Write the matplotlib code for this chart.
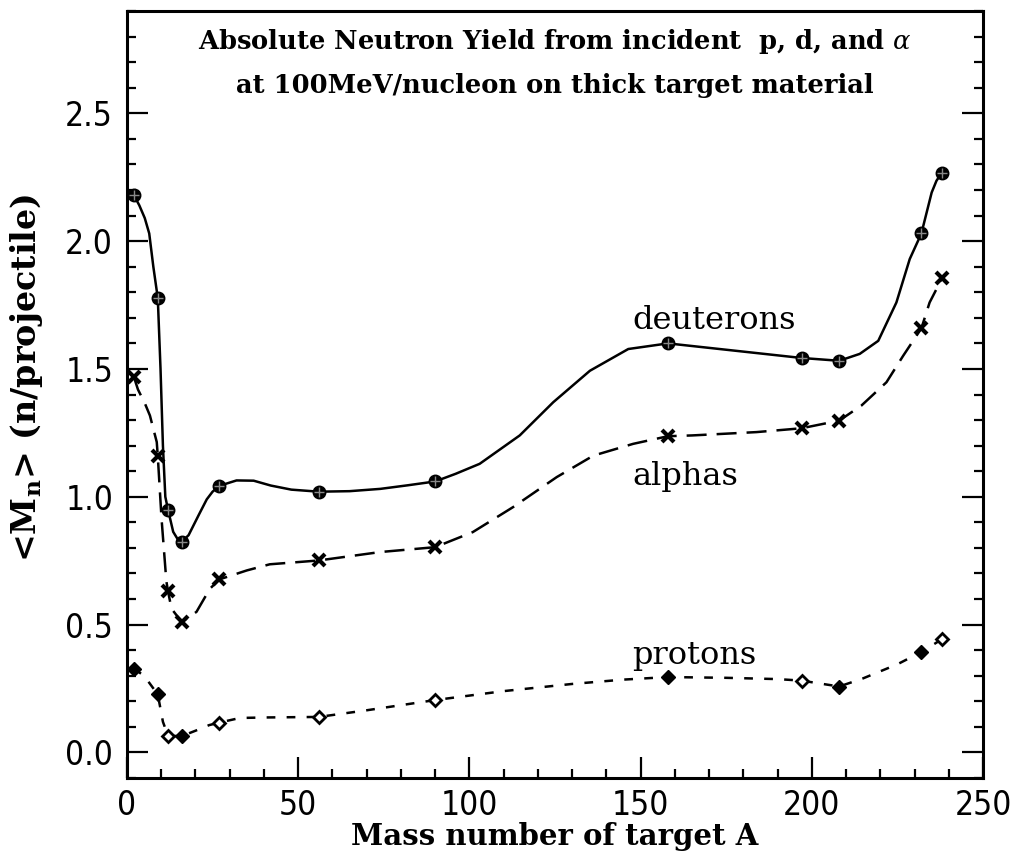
import numpy as np
import matplotlib
matplotlib.use('Agg')
import matplotlib.pyplot as plt
from matplotlib import font_manager
from matplotlib.ticker import MultipleLocator

# measured points (target mass number A, neutron yield per projectile)
A_d = [2, 9, 12, 16, 27, 56, 90, 158, 197, 208, 232, 238]
Y_d = [2.18, 1.777, 0.949, 0.824, 1.043, 1.02, 1.06, 1.60, 1.543, 1.532, 2.03, 2.268]

A_a = [2, 9, 12, 16, 27, 56, 90, 158, 197, 208, 232, 238]
Y_a = [1.47, 1.159, 0.63, 0.51, 0.677, 0.751, 0.803, 1.237, 1.268, 1.298, 1.659, 1.854]

A_p = [2, 9, 12, 16, 27, 56, 90, 158, 197, 208, 232, 238]
Y_p = [0.328, 0.227, 0.065, 0.064, 0.117, 0.139, 0.205, 0.295, 0.281, 0.258, 0.393, 0.443]
p_filled = [True, True, False, True, False, False, False, True, False, True, True, False]

# curve vertices
cx_d = [2, 3.6, 5.2, 6.5, 7.7, 9, 9.8, 10.5, 11.2, 12, 13.5, 15, 16, 18, 21, 23.3, 25, 27,
        32, 37, 42, 48, 56, 65, 74, 82, 90, 96, 103, 114.7, 124.5, 135.2, 146.4, 158,
        197, 208, 214, 219.4, 224.7, 228.6, 232, 235, 236.4, 238]
cy_d = [2.18, 2.14, 2.09, 2.03, 1.90, 1.777, 1.5, 1.2, 1.0, 0.949, 0.863, 0.83, 0.824, 0.85,
        0.93, 0.99, 1.02, 1.043, 1.064, 1.063, 1.044, 1.028, 1.02, 1.022, 1.031, 1.045, 1.06,
        1.09, 1.129, 1.24, 1.37, 1.493, 1.578, 1.60, 1.543, 1.532, 1.559, 1.61, 1.76, 1.93,
        2.03, 2.19, 2.236, 2.268]

cx_a = [2, 3.2, 5.3, 6.7, 8.7, 9, 10.1, 11.5, 12, 13, 16, 20.3, 24.2, 27, 35, 41.7, 56, 74,
        90, 101, 112.8, 125.5, 136.2, 147.8, 158, 165, 183.8, 197, 208, 214.5, 221.8, 226.7,
        232, 234.4, 238]
cy_a = [1.47, 1.42, 1.363, 1.318, 1.214, 1.159, 0.914, 0.67, 0.63, 0.5625, 0.51, 0.55, 0.64,
        0.677, 0.712, 0.736, 0.751, 0.784, 0.803, 0.862, 0.96, 1.077, 1.161, 1.207, 1.237,
        1.24, 1.253, 1.268, 1.298, 1.357, 1.448, 1.552, 1.659, 1.76, 1.854]

cx_p = [2, 5, 9, 10.5, 12, 16, 20, 24, 27, 33, 41, 56, 70, 90, 110, 130, 145, 158, 175, 190,
        197, 208, 215, 225, 232, 238]
cy_p = [0.328, 0.30, 0.227, 0.12, 0.065, 0.064, 0.085, 0.107, 0.117, 0.135, 0.137, 0.139,
        0.165, 0.205, 0.24, 0.268, 0.285, 0.295, 0.292, 0.287, 0.281, 0.258, 0.29, 0.345,
        0.393, 0.443]

names = {f.name for f in font_manager.fontManager.ttflist}
tick_family = 'Liberation Sans Narrow' if 'Liberation Sans Narrow' in names else 'DejaVu Sans'
tick_font = font_manager.FontProperties(family=tick_family, stretch='condensed', size=24)

plt.rcParams['mathtext.fontset'] = 'dejavuserif'
serif = 'DejaVu Serif'

fig = plt.figure(figsize=(10.19, 8.6), dpi=100)
ax = fig.add_axes([0.1246, 0.0953, 0.8401, 0.8919])

lw = 1.8
ax.plot(cx_d, cy_d, '-', color='black', lw=lw, zorder=2)
ax.plot(cx_a, cy_a, color='black', lw=lw, dashes=(8, 4), zorder=2)
ax.plot(cx_p, cy_p, color='black', lw=lw, dashes=(3.5, 4.5), zorder=2)

# deuteron markers: dark circles with a cross
ax.plot(A_d, Y_d, 'o', ms=9, color='black', zorder=3)
ax.plot(A_d, Y_d, '+', ms=7, mew=1, color='#888888', zorder=4)
# alpha markers
ax.plot(A_a, Y_a, 'x', ms=8, mew=3, color='black', zorder=3)
# proton markers, filled and open diamonds
fill = np.array(p_filled)
A_p_arr, Y_p_arr = np.array(A_p), np.array(Y_p)
ax.plot(A_p_arr[fill], Y_p_arr[fill], 'D', ms=7, color='black', zorder=3)
ax.plot(A_p_arr[~fill], Y_p_arr[~fill], 'D', ms=6, mfc='white', mec='black', mew=2, zorder=3)

ax.set_xlim(0, 250)
ax.set_ylim(-0.1, 2.9)
ax.xaxis.set_major_locator(MultipleLocator(50))
ax.xaxis.set_minor_locator(MultipleLocator(10))
ax.yaxis.set_major_locator(MultipleLocator(0.5))
ax.yaxis.set_minor_locator(MultipleLocator(0.1))
ax.yaxis.set_major_formatter(matplotlib.ticker.FormatStrFormatter('%.1f'))

ax.tick_params(which='both', direction='in', right=True, top=False, width=1.6)
ax.tick_params(axis='y', which='major', length=15, pad=10)
ax.tick_params(axis='x', which='major', length=15, pad=8)
ax.tick_params(which='minor', length=6.5)
for lab in ax.get_xticklabels() + ax.get_yticklabels():
    lab.set_fontproperties(tick_font)
for s in ax.spines.values():
    s.set_linewidth(2.2)

ax.set_xlabel('Mass number of target A', family=serif, weight='bold', size=21, labelpad=0)
ax.set_ylabel(r'<M$_{\mathbf{n}}$> (n/projectile)', family=serif, weight='bold', size=24)
ax.yaxis.set_label_coords(-0.096, 0.522)

ax.text(0.5, 0.96, r'Absolute Neutron Yield from incident  p, d, and $\alpha$',
        transform=ax.transAxes, ha='center', va='center', family=serif, weight='bold', size=18.5)
ax.text(0.5, 0.9035, 'at 100MeV/nucleon on thick target material',
        transform=ax.transAxes, ha='center', va='center', family=serif, weight='bold', size=18.5)

ax.text(147.5, 1.689, 'deuterons', ha='left', va='center', family=serif, size=23)
ax.text(147.5, 1.078, 'alphas', ha='left', va='center', family=serif, size=23)
ax.text(147.5, 0.379, 'protons', ha='left', va='center', family=serif, size=23)

fig.savefig('out.png', dpi=100)
